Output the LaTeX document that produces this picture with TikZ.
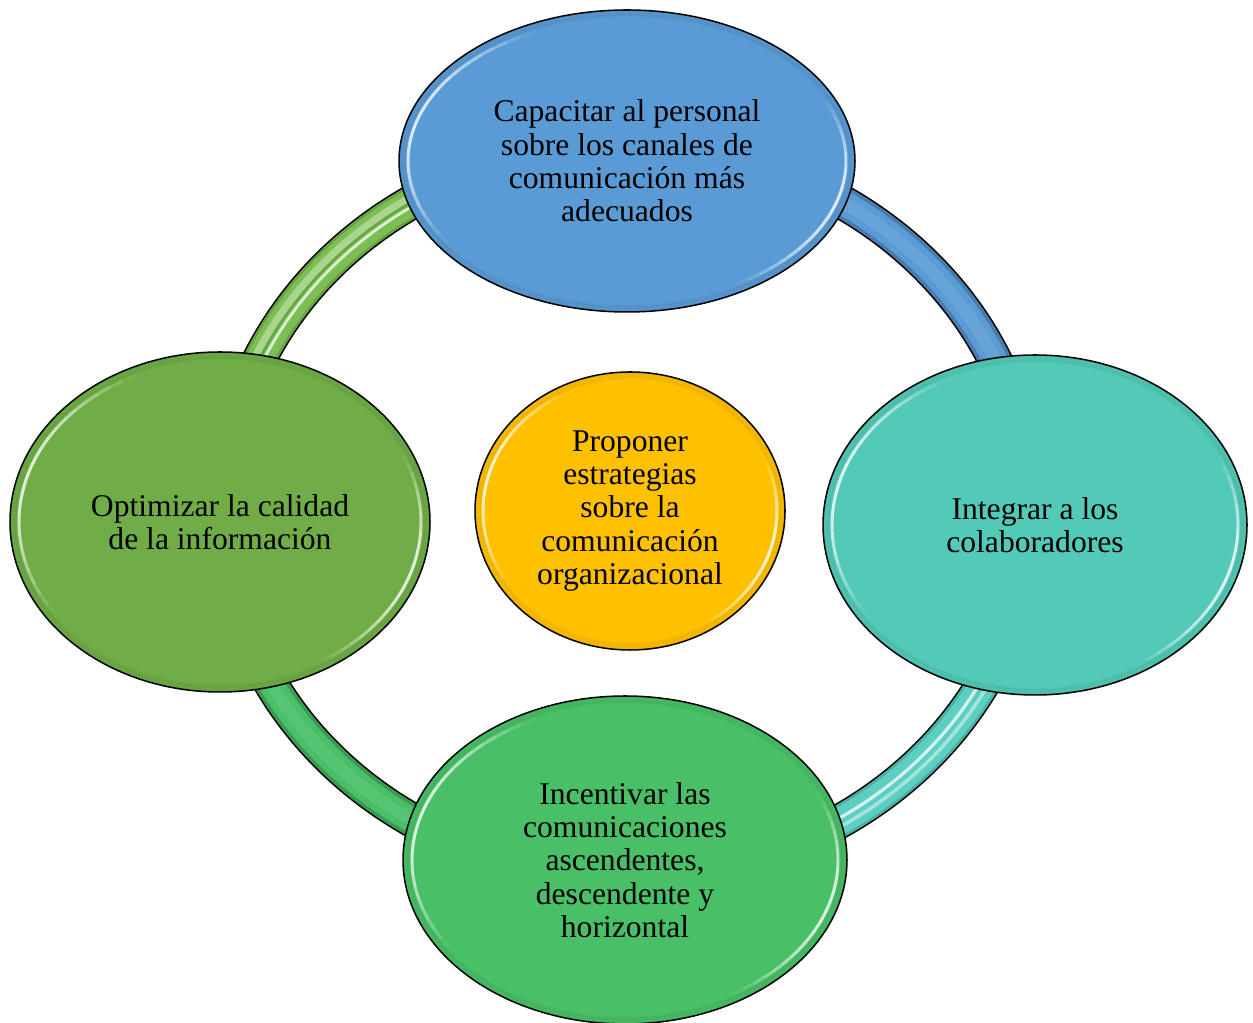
\documentclass[tikz,border=0pt]{standalone}
\usepackage{fontspec}
\setmainfont{Liberation Serif}
\usetikzlibrary{shapes.geometric}

\definecolor{cblue}{HTML}{5B9BD5}
\definecolor{cteal}{HTML}{53C9B7}
\definecolor{cgreen}{HTML}{49BF67}
\definecolor{colive}{HTML}{70AD47}
\definecolor{cgold}{HTML}{FFC000}
\definecolor{rolive}{HTML}{7BBF52}
\definecolor{rteal}{HTML}{5CCFC2}

% one arc of the ring: start, end, radial offset, style, width
\newcommand\ringarc[5]{%
  \pgfmathsetmacro\ra{404+#3}\pgfmathsetmacro\rb{365+#3}%
  \draw[#4, line width=#5] ({627+\ra*cos(#1)},{512+\rb*sin(#1)})
    arc[start angle=#1, end angle=#2, x radius=\ra, y radius=\rb];}

% tapered glossy highlight inside a bubble: cx, cy, rx, ry, start, end
\newcommand\gloss[6]{%
  \foreach \k in {0,...,23}{%
    \pgfmathsetmacro\aa{#5+(#6-#5)*\k/24}%
    \pgfmathsetmacro\ab{#5+(#6-#5)*(\k+1)/24}%
    \pgfmathsetmacro\op{0.8*sin(180*(\k+0.5)/24)}%
    \draw[white, opacity=\op, line width=1.7pt]
      ({#1+#3*cos(\aa)},{#2+#4*sin(\aa)})
      arc[start angle=\aa, end angle=\ab, x radius=#3, y radius=#4];}}

% soft darker rim just inside a bubble outline: cx, cy, rx, ry, colour
\newcommand\rim[5]{%
  \draw[#5!75!black, opacity=0.18, line width=3pt] (#1,#2) ellipse[x radius=#3-3, y radius=#4-3];
  \draw[#5!75!black, opacity=0.12, line width=1.5pt] (#1,#2) ellipse[x radius=#3-6, y radius=#4-6];}

\tikzset{
  bubble/.style={ellipse, draw=black, line width=0.9pt, inner sep=0pt,
    align=center, font=\fontsize{18}{18.9}\selectfont},
}

\begin{document}
\begin{tikzpicture}[x=0.02cm, y=0.02cm]
\useasboundingbox (0,0) rectangle (1253,1023);

% ---- ring joining the four outer steps ----
% top-left quarter
\ringarc{90}{180}{0}{black}{19.9pt}
\ringarc{90}{180}{0}{rolive!85!black}{18.1pt}
\ringarc{90}{180}{0}{rolive}{15pt}
\ringarc{90}{180}{5}{white, opacity=0.35}{4pt}
\ringarc{90}{180}{0}{rolive!70!black, opacity=0.5}{1.2pt}
\ringarc{90}{180}{-4}{white, opacity=0.75}{1.6pt}
% top-right quarter
\ringarc{0}{90}{0}{black}{19.9pt}
\ringarc{0}{90}{0}{cblue!80!black}{18.1pt}
\ringarc{0}{90}{0}{cblue}{14pt}
\ringarc{0}{90}{0}{cblue!92!white}{7pt}
% bottom-right quarter
\ringarc{270}{360}{0}{black}{19.9pt}
\ringarc{270}{360}{0}{rteal!85!black}{18.1pt}
\ringarc{270}{360}{0}{rteal}{15pt}
\ringarc{270}{360}{5}{white, opacity=0.45}{2pt}
\ringarc{270}{360}{-3}{white, opacity=0.75}{1.8pt}
% bottom-left quarter
\ringarc{180}{270}{0}{black}{19.9pt}
\ringarc{180}{270}{0}{cgreen!80!black}{18.1pt}
\ringarc{180}{270}{0}{cgreen}{14pt}
\ringarc{180}{270}{0}{cgreen!92!white}{7pt}

% ---- outer steps ----
\node[bubble, fill=cblue, minimum width=9.12cm, minimum height=6.04cm] (capacitar) at (627,862)
  {Capacitar al personal\\sobre los canales de\\comunicación más\\adecuados};
\rim{627}{862}{228}{151}{cblue}
\gloss{627}{862}{219}{142}{115}{215}
\gloss{627}{862}{219}{142}{25}{-60}

\node[bubble, fill=cteal, minimum width=8.48cm, minimum height=6.8cm] (integrar) at (1035,498)
  {Integrar a los\\colaboradores};
\rim{1035}{498}{212}{170}{cteal}
\gloss{1035}{498}{203}{161}{115}{215}
\gloss{1035}{498}{203}{161}{25}{-60}

\node[bubble, fill=cgreen, minimum width=8.88cm, minimum height=6.56cm] (incentivar) at (625,163)
  {Incentivar las\\comunicaciones\\ascendentes,\\descendente y\\horizontal};
\rim{625}{163}{222}{164}{cgreen}
\gloss{625}{163}{213}{155}{115}{215}
\gloss{625}{163}{213}{155}{25}{-60}

\node[bubble, fill=colive, minimum width=8.4cm, minimum height=6.8cm] (optimizar) at (220,501)
  {Optimizar la calidad\\de la información};
\rim{220}{501}{210}{170}{colive}
\gloss{220}{501}{201}{161}{115}{215}
\gloss{220}{501}{201}{161}{25}{-60}

% ---- central goal ----
\node[bubble, fill=cgold, minimum width=6.2cm, minimum height=5.56cm] (proponer) at (630,512)
  {Proponer\\estrategias\\sobre la\\comunicación\\organizacional};
\rim{630}{512}{155}{139}{cgold}
\gloss{630}{512}{147}{131}{115}{215}
\gloss{630}{512}{147}{131}{25}{-60}
\end{tikzpicture}
\end{document}
